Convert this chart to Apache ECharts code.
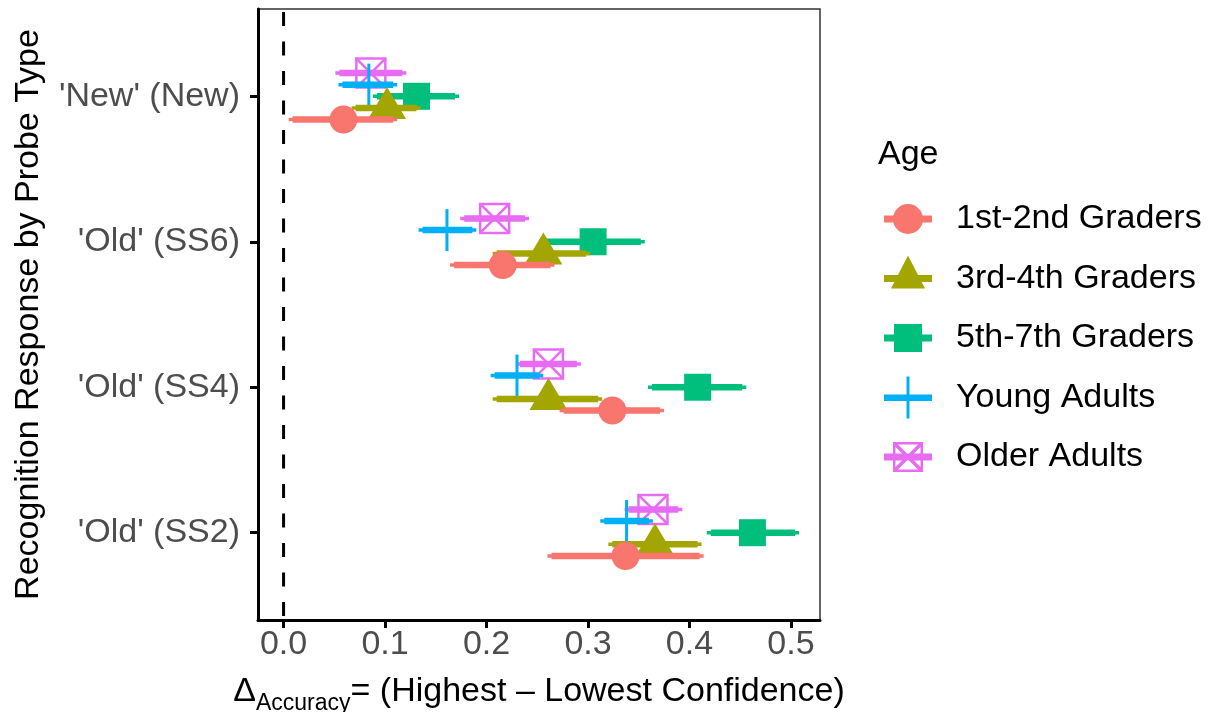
<!DOCTYPE html>
<html>
<head>
<meta charset="utf-8">
<script src="https://cdn.jsdelivr.net/npm/echarts@6/dist/echarts.min.js"></script>
<style>
html,body{margin:0;padding:0;background:#fff;}
#chart{width:1214px;height:712px;}
</style>
</head>
<body>
<div id="chart"></div>
<script>
// ---- data ----
const categories = ["'Old' (SS2)", "'Old' (SS4)", "'Old' (SS6)", "'New' (New)"]; // bottom to top
const groups = ['1st-2nd Graders', '3rd-4th Graders', '5th-7th Graders', 'Young Adults', 'Older Adults'];
const xTicks = [0, 0.1, 0.2, 0.3, 0.4, 0.5];

// mean / lower / upper, in category order (SS2, SS4, SS6, New)
const g1Mean = [0.337, 0.324, 0.216, 0.059];
const g1Lo   = [0.264, 0.276, 0.168, 0.009];
const g1Hi   = [0.410, 0.371, 0.263, 0.108];

const g2Mean = [0.366, 0.261, 0.256, 0.102];
const g2Lo   = [0.324, 0.210, 0.210, 0.071];
const g2Hi   = [0.408, 0.310, 0.298, 0.131];

const g3Mean = [0.462, 0.408, 0.305, 0.131];
const g3Lo   = [0.421, 0.363, 0.258, 0.092];
const g3Hi   = [0.504, 0.452, 0.352, 0.169];

const g4Mean = [0.338, 0.230, 0.161, 0.084];
const g4Lo   = [0.316, 0.208, 0.137, 0.058];
const g4Hi   = [0.360, 0.252, 0.186, 0.108];

const g5Mean = [0.364, 0.261, 0.208, 0.086];
const g5Lo   = [0.340, 0.233, 0.178, 0.055];
const g5Hi   = [0.389, 0.289, 0.238, 0.117];

// ---- styling ----
const colors = ['#F8766D', '#A3A500', '#00BF7D', '#00B0F6', '#E76BF3'];
const shapes = ['circle', 'triangle', 'square', 'plus', 'boxx'];
const FONT = '"Liberation Sans", Arial, sans-serif';
const FS = 34;
const dodge = 0.08;

const means = [g1Mean, g2Mean, g3Mean, g4Mean, g5Mean];
const los = [g1Lo, g2Lo, g3Lo, g4Lo, g5Lo];
const his = [g1Hi, g2Hi, g3Hi, g4Hi, g5Hi];

function makeRender(shape, color) {
  return function (params, api) {
    const y = api.value(1);
    const c = api.coord([api.value(0), y]);
    const lo = api.coord([api.value(2), y]);
    const hi = api.coord([api.value(3), y]);
    const cx = c[0], cy = c[1];
    const ch = [
      { type: 'line', shape: { x1: lo[0] - 4, y1: cy, x2: hi[0] + 4, y2: cy }, style: { stroke: color, lineWidth: 3.5 } },
      { type: 'line', shape: { x1: lo[0], y1: cy, x2: hi[0], y2: cy }, style: { stroke: color, lineWidth: 6.5 } }
    ];
    if (shape === 'circle') {
      ch.push({ type: 'circle', shape: { cx: cx, cy: cy, r: 14 }, style: { fill: color } });
    } else if (shape === 'triangle') {
      ch.push({ type: 'polygon', shape: { points: [[cx, cy - 21], [cx + 19, cy + 11], [cx - 19, cy + 11]] }, style: { fill: color } });
    } else if (shape === 'square') {
      ch.push({ type: 'rect', shape: { x: cx - 13.5, y: cy - 13.5, width: 27, height: 27 }, style: { fill: color } });
    } else if (shape === 'plus') {
      ch.push({ type: 'line', shape: { x1: cx, y1: cy - 21, x2: cx, y2: cy + 21 }, style: { stroke: color, lineWidth: 3 } });
      ch.push({ type: 'line', shape: { x1: cx - 21, y1: cy, x2: cx + 21, y2: cy }, style: { stroke: color, lineWidth: 3 } });
    } else if (shape === 'boxx') {
      const h = 14.5;
      ch.push({ type: 'rect', shape: { x: cx - h, y: cy - h, width: 2 * h, height: 2 * h }, style: { fill: 'none', stroke: color, lineWidth: 2.5 } });
      ch.push({ type: 'line', shape: { x1: cx - h, y1: cy - h, x2: cx + h, y2: cy + h }, style: { stroke: color, lineWidth: 2.5 } });
      ch.push({ type: 'line', shape: { x1: cx + h, y1: cy - h, x2: cx - h, y2: cy + h }, style: { stroke: color, lineWidth: 2.5 } });
    }
    return { type: 'group', children: ch };
  };
}

// legend icons in a 48 x 46 box
const corners = 'M0,0 h0.01 v0.01 Z M48,46 h-0.01 v-0.01 Z ';
const bar = 'M0,19.5 h48 v7 h-48 Z ';
const icons = [
  'path://' + corners + bar + 'M9,23 A15,15 0 1,1 39,23 A15,15 0 1,1 9,23 Z',
  'path://' + corners + bar + 'M24,0 L41,33 L7,33 Z',
  'path://' + corners + bar + 'M10,9 h28 v28 h-28 Z',
  'path://' + corners + 'M0,20 h48 v6.5 h-48 Z M22.5,2 h3 v42 h-3 Z',
  'path://' + corners + bar +
    'M9,8 h30 v2.5 h-30 Z M9,35.5 h30 v2.5 h-30 Z M9,8 h2.5 v30 h-2.5 Z M36.5,8 h2.5 v30 h-2.5 Z ' +
    'M9,8 L11.5,8 L39,35.5 L39,38 L36.5,38 L9,10.5 Z M39,8 L39,10.5 L11.5,38 L9,38 L9,35.5 L36.5,8 Z'
];

const series = groups.map(function (g, i) {
  const data = categories.map(function (cat, k) {
    return [means[i][k], k + 1 + (i - 2) * dodge, los[i][k], his[i][k]];
  });
  return {
    name: g,
    type: 'custom',
    z: 10 - i,
    itemStyle: { color: colors[i] },
    renderItem: makeRender(shapes[i], colors[i]),
    encode: { x: [0, 2, 3], y: 1 },
    data: data,
    silent: true
  };
});

// zero reference line
series.push({
  type: 'line',
  z: 1,
  silent: true,
  symbol: 'none',
  data: [[0, 4.6], [0, 0.4]],
  lineStyle: { color: '#000', width: 3, type: [14, 15.5], dashOffset: -3 }
});

const chart = echarts.init(document.getElementById('chart'), null, { renderer: 'canvas' });
chart.setOption({
  animation: false,
  backgroundColor: '#fff',
  textStyle: { fontFamily: FONT },
  title: {
    text: 'Age', left: 878, top: 138, padding: 0,
    textStyle: { fontSize: FS, fontWeight: 'normal', color: '#000', fontFamily: FONT }
  },
  legend: {
    orient: 'vertical',
    left: 884,
    top: 196,
    padding: 0,
    itemWidth: 48,
    itemHeight: 46,
    itemGap: 13.5,
    selectedMode: false,
    itemStyle: { borderWidth: 0 },
    textStyle: { fontSize: FS, color: '#000', fontFamily: FONT, padding: [0, 0, 0, 19] },
    data: groups.map(function (g, i) { return { name: g, icon: icons[i] }; })
  },
  grid: {
    left: 258, top: 9, right: 394, bottom: 92,
    outerBoundsMode: 'none',
    containLabel: false,
    show: true, borderColor: '#333', borderWidth: 1.5, backgroundColor: 'transparent'
  },
  xAxis: {
    type: 'value',
    min: -0.0252,
    max: 0.5286,
    splitLine: { show: false },
    axisLine: { show: true, onZero: false, lineStyle: { color: '#000', width: 3 } },
    axisTick: { show: true, length: 8, lineStyle: { color: '#000', width: 3 }, customValues: xTicks },
    axisLabel: {
      show: true, customValues: xTicks, fontSize: FS, color: '#4D4D4D', margin: 8, fontFamily: FONT,
      formatter: function (v) { return v.toFixed(1); }
    },
    name: '{d|Δ}{s|Accuracy}{n|= (Highest – Lowest Confidence)}',
    nameLocation: 'middle',
    nameGap: 49,
    nameTextStyle: {
      fontFamily: FONT,
      rich: {
        d: { fontSize: FS, color: '#000', lineHeight: 46, verticalAlign: 'middle', fontFamily: FONT },
        s: { fontSize: 23, color: '#000', lineHeight: 22, verticalAlign: 'bottom', fontFamily: FONT },
        n: { fontSize: FS, color: '#000', lineHeight: 46, verticalAlign: 'middle', fontFamily: FONT }
      }
    }
  },
  yAxis: {
    type: 'value',
    min: 0.4,
    max: 4.6,
    splitLine: { show: false },
    axisLine: { show: true, onZero: false, lineStyle: { color: '#000', width: 3 } },
    axisTick: { show: true, length: 8, lineStyle: { color: '#000', width: 3 }, customValues: [1, 2, 3, 4] },
    axisLabel: {
      show: true, customValues: [1, 2, 3, 4], fontSize: FS, color: '#4D4D4D', margin: 18, fontFamily: FONT,
      formatter: function (v) { return categories[Math.round(v) - 1]; }
    },
    name: 'Recognition Response by Probe Type',
    nameLocation: 'middle',
    nameRotate: 90,
    nameGap: 212,
    nameTextStyle: { fontSize: FS, color: '#000', fontFamily: FONT }
  },
  series: series
});
</script>
</body>
</html>
